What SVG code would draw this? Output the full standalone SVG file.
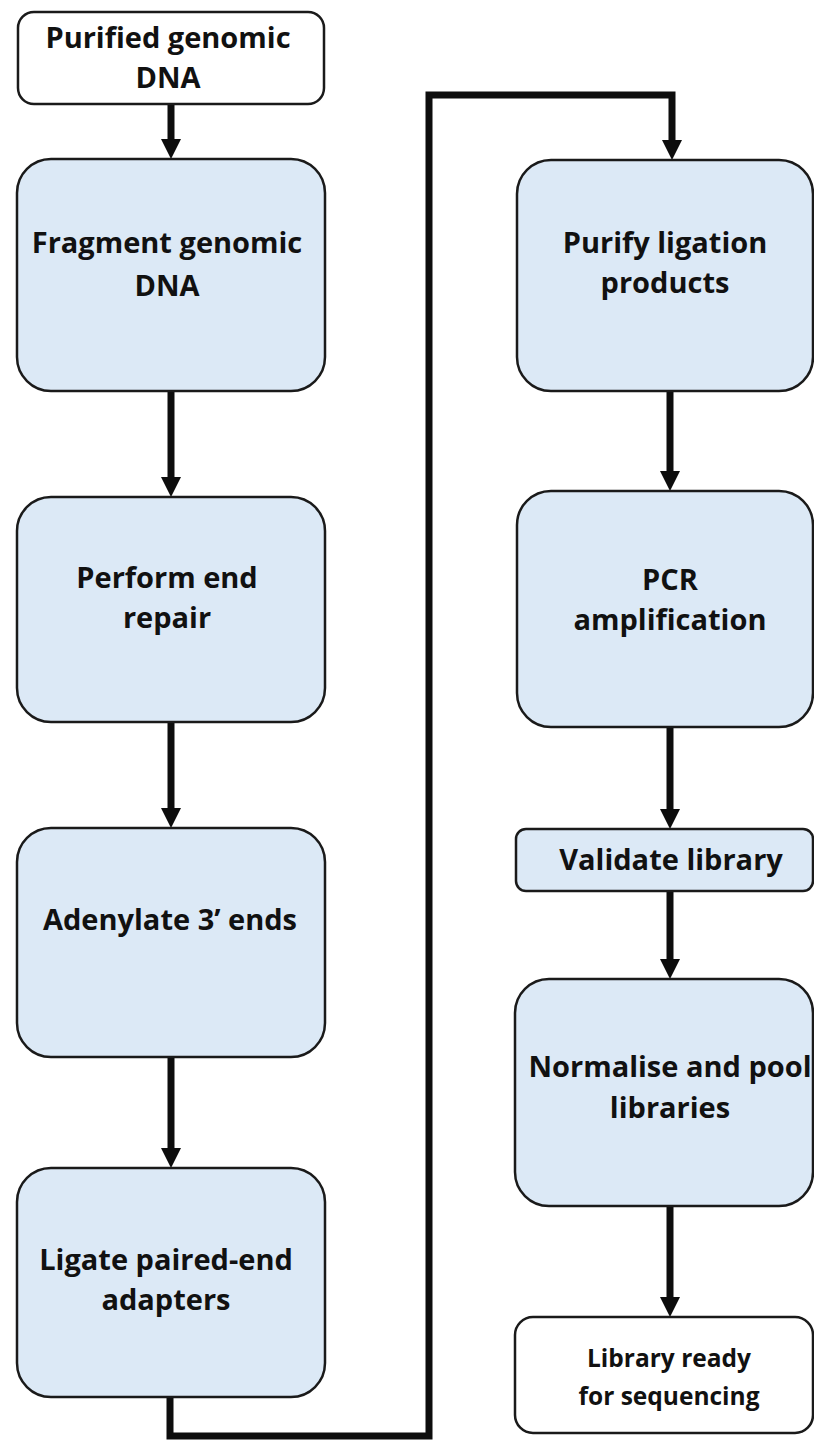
<svg xmlns="http://www.w3.org/2000/svg" width="814" height="1441" viewBox="0 0 814 1441">
  <defs>
    <marker id="arrowhead" markerUnits="userSpaceOnUse" markerWidth="22" markerHeight="22" refX="0" refY="10" orient="auto">
      <path d="M0,0 L20,10 L0,20 Z" fill="#0d0d0d"/>
    </marker>
    <style>
      .box { stroke: #1a1a1a; stroke-width: 2.5; }
      .step { fill: #dce9f6; }
      .term { fill: #ffffff; }
      .label { font-family: "Open Sans", Lato, "Liberation Sans", sans-serif; font-weight: bold; font-size: 29px; fill: #111111; text-anchor: middle; }
      .small { font-size: 24.5px; }
      .link { fill: none; stroke: #0d0d0d; stroke-width: 7; }
    </style>
  </defs>
  <rect width="814" height="1441" fill="#ffffff"/>

  <!-- connectors -->
  <g id="connectors">
    <line class="link" x1="171" y1="104" x2="171" y2="139" marker-end="url(#arrowhead)"/>
    <line class="link" x1="171" y1="391" x2="171" y2="477" marker-end="url(#arrowhead)"/>
    <line class="link" x1="171" y1="722" x2="171" y2="808" marker-end="url(#arrowhead)"/>
    <line class="link" x1="171" y1="1057" x2="171" y2="1148" marker-end="url(#arrowhead)"/>
    <polyline class="link" points="170,1397 170,1436 429,1436 429,95 672,95 672,140" stroke-linejoin="miter" marker-end="url(#arrowhead)"/>
    <line class="link" x1="670" y1="391" x2="670" y2="471" marker-end="url(#arrowhead)"/>
    <line class="link" x1="670" y1="727" x2="670" y2="809" marker-end="url(#arrowhead)"/>
    <line class="link" x1="670" y1="891" x2="670" y2="959" marker-end="url(#arrowhead)"/>
    <line class="link" x1="670" y1="1206" x2="670" y2="1297" marker-end="url(#arrowhead)"/>
  </g>

  <!-- left column -->
  <g id="purified-dna">
    <rect class="box term" x="18" y="12" width="306" height="92" rx="16"/>
    <text class="label" x="168" y="48">Purified genomic</text>
    <text class="label" x="168" y="88">DNA</text>
  </g>
  <g id="fragment">
    <rect class="box step" x="17" y="159" width="308" height="232" rx="34"/>
    <text class="label" x="167" y="253">Fragment genomic</text>
    <text class="label" x="167" y="296">DNA</text>
  </g>
  <g id="end-repair">
    <rect class="box step" x="17" y="497" width="308" height="225" rx="34"/>
    <text class="label" x="167" y="588">Perform end</text>
    <text class="label" x="167" y="628">repair</text>
  </g>
  <g id="adenylate">
    <rect class="box step" x="17" y="828" width="308" height="229" rx="34"/>
    <text class="label" x="170" y="930">Adenylate 3’ ends</text>
  </g>
  <g id="ligate">
    <rect class="box step" x="17" y="1168" width="308" height="229" rx="34"/>
    <text class="label" x="166" y="1270">Ligate paired-end</text>
    <text class="label" x="166" y="1310">adapters</text>
  </g>

  <!-- right column -->
  <g id="purify">
    <rect class="box step" x="517" y="160" width="296" height="231" rx="34"/>
    <text class="label" x="665" y="253">Purify ligation</text>
    <text class="label" x="665" y="293">products</text>
  </g>
  <g id="pcr">
    <rect class="box step" x="517" y="491" width="296" height="236" rx="34"/>
    <text class="label" x="670" y="590">PCR</text>
    <text class="label" x="670" y="630">amplification</text>
  </g>
  <g id="validate">
    <rect class="box step" x="516" y="829" width="297" height="62" rx="10"/>
    <text class="label" x="671" y="870">Validate library</text>
  </g>
  <g id="normalise">
    <rect class="box step" x="515" y="979" width="298" height="227" rx="34"/>
    <text class="label" x="670" y="1077">Normalise and pool</text>
    <text class="label" x="670" y="1118">libraries</text>
  </g>
  <g id="ready">
    <rect class="box term" x="515" y="1317" width="298" height="116" rx="18"/>
    <text class="label small" x="669" y="1367">Library ready</text>
    <text class="label small" x="669" y="1405">for sequencing</text>
  </g>
</svg>
